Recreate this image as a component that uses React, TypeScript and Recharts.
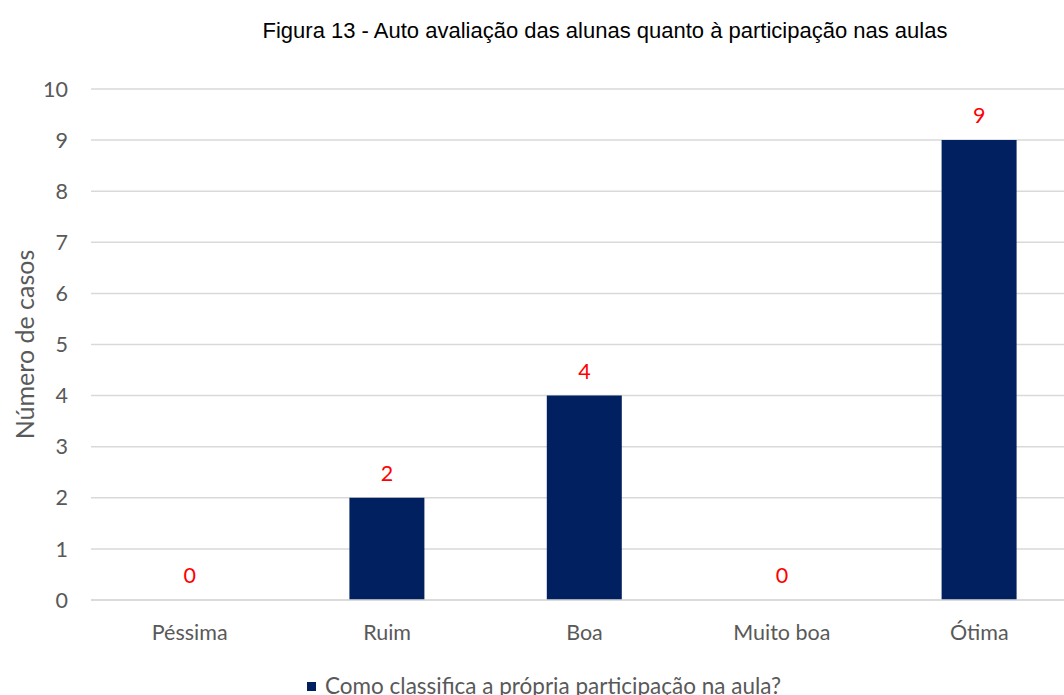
import { ComposedChart, Bar, Line, XAxis, YAxis, CartesianGrid, LabelList } from 'recharts'

const categories = ['Péssima', 'Ruim', 'Boa', 'Muito boa', 'Ótima']
const casos = [0, 2, 4, 0, 9]
const yTicks = [0, 1, 2, 3, 4, 5, 6, 7, 8, 9, 10]

const title = 'Figura 13 - Auto avaliação das alunas quanto à participação nas aulas'
const yLabel = 'Número de casos'
const seriesName = 'Como classifica a própria participação na aula?'

const data = categories.map((name, i) => ({ name, value: casos[i] }))

export default function App() {
  const navy = '#002060'
  const grey = '#595959'
  const font = 'Lato, "Open Sans", sans-serif'

  return (
    <div
      style={{
        position: 'absolute',
        left: 0,
        top: 0,
        width: 1064,
        height: 695,
        overflow: 'hidden',
        background: '#fff',
      }}
    >
      <div
        style={{
          position: 'absolute',
          left: 0,
          width: 1210,
          top: 18,
          textAlign: 'center',
          fontFamily: 'Arial, "Liberation Sans", sans-serif',
          fontSize: 22,
          color: '#000',
          whiteSpace: 'nowrap',
        }}
      >
        {title}
      </div>

      <ComposedChart
        width={1080}
        height={695}
        data={data}
        margin={{ top: 89, right: 2, bottom: 65, left: 0 }}
        style={{ position: 'absolute', left: 0, top: 0 }}
      >
        <CartesianGrid vertical={false} stroke="#d9d9d9" strokeWidth={1.5} />
        <XAxis
          dataKey="name"
          axisLine={{ stroke: '#d9d9d9', strokeWidth: 1.5 }}
          tickLine={false}
          tickSize={0}
          tickMargin={25}
          tick={{ fill: grey, fontSize: 21.5, fontFamily: font }}
        />
        <YAxis
          width={91}
          domain={[0, 10]}
          ticks={yTicks}
          axisLine={false}
          tickLine={false}
          tickSize={0}
          tickMargin={23}
          tick={{ fill: grey, fontSize: 21.5, fontFamily: font }}
          label={{
            value: yLabel,
            angle: -90,
            position: 'insideLeft',
            dx: 20,
            fill: grey,
            fontSize: 25,
            fontFamily: font,
            style: { textAnchor: 'middle' },
          }}
        />
        <Bar
          dataKey="value"
          fill={navy}
          barSize={75}
          isAnimationActive={false}
        />
        <Line
          dataKey="value"
          stroke="none"
          dot={false}
          activeDot={false}
          legendType="none"
          isAnimationActive={false}
        >
          <LabelList
            dataKey="value"
            position="top"
            offset={17}
            fill="#ff0000"
            fontSize={21.5}
            fontFamily={font}
          />
        </Line>
      </ComposedChart>

      <div
        style={{
          position: 'absolute',
          left: 307,
          top: 675,
          height: 22,
          lineHeight: '22px',
          display: 'flex',
          alignItems: 'center',
          fontFamily: font,
          fontSize: 22.5,
          color: grey,
          whiteSpace: 'nowrap',
        }}
      >
        <span
          style={{
            display: 'inline-block',
            width: 9,
            height: 9,
            background: navy,
            marginRight: 9,
          }}
        />
        {seriesName}
      </div>
    </div>
  )
}
